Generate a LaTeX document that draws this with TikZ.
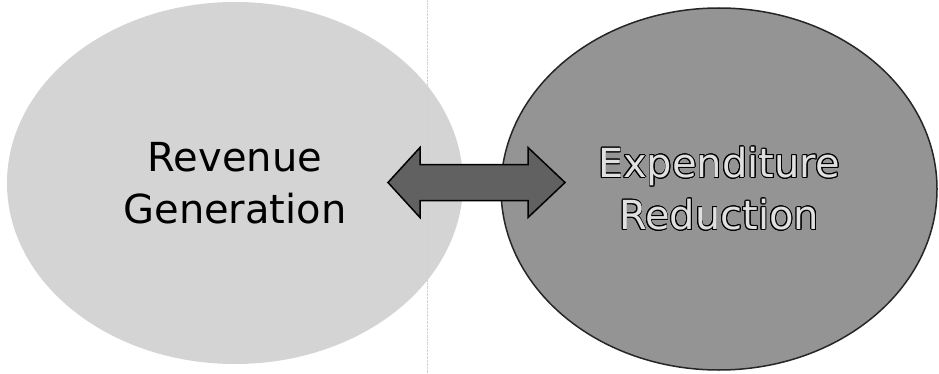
\documentclass[tikz,border=0pt]{standalone}
\usepackage{fontspec}
\setmainfont{DejaVu Sans}
\usepackage{contour}
\usetikzlibrary{shapes.geometric}
\contourlength{0.9pt}
\begin{document}
\begin{tikzpicture}[x=1pt,y=1pt]
\tikzstyle{blob}=[ellipse,inner sep=0pt,align=center,font=\fontsize{40}{52}\selectfont]
\useasboundingbox (0,0) rectangle (939,373);
\fill[white] (0,0) rectangle (939,373);
\node[style={blob,fill=black!17,minimum width=456pt,minimum height=362pt}] (rev) 
at (235, 190) {Revenue\\Generation};
\node[style={blob,fill=black!42,draw=black!85,line width=1.5pt,text=black!12,minimum width=436pt,minimum height=362pt}] (exp) 
at (719, 184) {\contour{black}{Expenditure}\\\contour{black}{Reduction}};
\coordinate (top) at (427, 373);
\coordinate (bot) at (427, 0);
\draw[black!18,densely dotted] (top) -- (bot);
% double arrow between the two ellipses
\coordinate (link) at (476.5, 190.5);
\draw[draw=black,line width=1.5pt,fill=black!62,line join=miter] 
([xshift=-88.5pt]link) -- ++(32,35) -- ++(0,-17) -- ++(108,0) -- ++(0,17) 
-- ++(37,-35) -- ++(-37,-35) -- ++(0,17) -- ++(-108,0) -- ++(0,-17) -- cycle;
\end{tikzpicture}
\end{document}
